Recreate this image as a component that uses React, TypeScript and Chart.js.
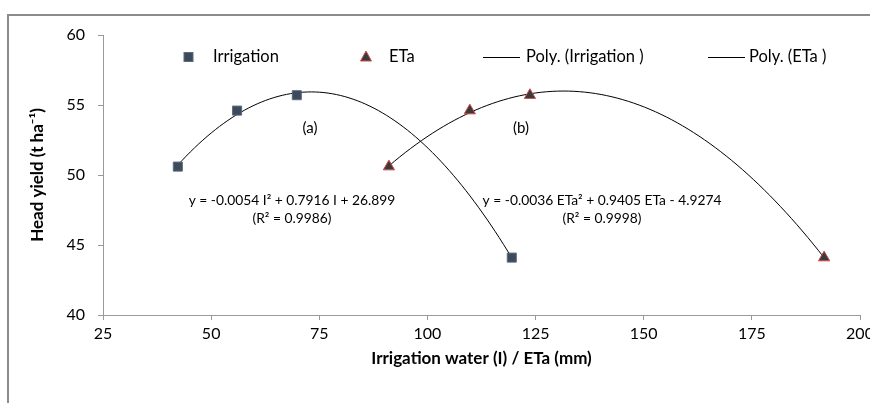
import React, { useEffect, useRef } from "react";
import { Chart, registerables } from "chart.js";

Chart.register(...registerables);

// ---- data ----
const irrigationX = [42.3, 56.0, 69.8, 119.5];
const irrigationY = [50.6, 54.6, 55.7, 44.1];
const etaX = [91.1, 109.8, 123.7, 191.7];
const etaY = [50.6, 54.6, 55.7, 44.1];

const xTicks = [25, 50, 75, 100, 125, 150, 175, 200];
const yTicks = [40, 45, 50, 55, 60];

const seriesNames = ["Irrigation", "ETa", "Poly. (Irrigation )", "Poly. (ETa )"];
const eqIrrigation = ["y = -0.0054 I\u00B2 + 0.7916 I + 26.899", "(R\u00B2 = 0.9986)"];
const eqEta = ["y = -0.0036 ETa\u00B2 + 0.9405 ETa - 4.9274", "(R\u00B2 = 0.9998)"];
const panelLabels = ["(a)", "(b)"];

const FONT = "Lato, 'Liberation Sans', sans-serif";

// least-squares quadratic fit (Excel "Poly." trendline, order 2)
function fitQuadratic(xs: number[], ys: number[]) {
  const S = [0, 0, 0, 0, 0];
  const T = [0, 0, 0];
  for (let i = 0; i < xs.length; i++) {
    let p = 1;
    for (let k = 0; k < 5; k++) { S[k] += p; p *= xs[i]; }
    T[0] += ys[i]; T[1] += ys[i] * xs[i]; T[2] += ys[i] * xs[i] * xs[i];
  }
  const M = [
    [S[0], S[1], S[2], T[0]],
    [S[1], S[2], S[3], T[1]],
    [S[2], S[3], S[4], T[2]],
  ];
  for (let c = 0; c < 3; c++) {
    for (let r = c + 1; r < 3; r++) {
      const f = M[r][c] / M[c][c];
      for (let k = c; k < 4; k++) M[r][k] -= f * M[c][k];
    }
  }
  const sol = [0, 0, 0];
  for (let r = 2; r >= 0; r--) {
    let s = M[r][3];
    for (let k = r + 1; k < 3; k++) s -= M[r][k] * sol[k];
    sol[r] = s / M[r][r];
  }
  return sol; // c0, c1, c2
}

function trendPoints(xs: number[], ys: number[]) {
  const [a, b, c] = fitQuadratic(xs, ys);
  const lo = Math.min(...xs);
  const hi = Math.max(...xs);
  const pts = [];
  const n = 80;
  for (let i = 0; i <= n; i++) {
    const x = lo + ((hi - lo) * i) / n;
    pts.push({ x, y: a + b * x + c * x * x });
  }
  return pts;
}

const SQ_FILL = "#3d4a5c";
const SQ_EDGE = "#5a6b80";
const TRI_FILL = "#3a3a3a";
const TRI_EDGE = "#d0504d";

const overlayPlugin = {
  id: "overlay",
  afterDraw(chart: any) {
    const ctx = chart.ctx;
    ctx.save();
    // legend
    const ly = 57;
    ctx.font = `16.5px ${FONT}`;
    ctx.textBaseline = "middle";
    ctx.textAlign = "left";
    // square
    ctx.fillStyle = SQ_FILL;
    ctx.strokeStyle = SQ_EDGE;
    ctx.lineWidth = 1;
    ctx.fillRect(184, ly - 4.5, 9, 9);
    ctx.strokeRect(184, ly - 4.5, 9, 9);
    ctx.fillStyle = "#000";
    ctx.fillText(seriesNames[0], 213, ly);
    // triangle
    ctx.beginPath();
    ctx.moveTo(366, ly - 6);
    ctx.lineTo(371.5, ly + 4);
    ctx.lineTo(360.5, ly + 4);
    ctx.closePath();
    ctx.fillStyle = TRI_FILL;
    ctx.fill();
    ctx.strokeStyle = TRI_EDGE;
    ctx.stroke();
    ctx.fillStyle = "#000";
    ctx.fillText(seriesNames[1], 389, ly);
    // lines
    ctx.strokeStyle = "#000";
    ctx.beginPath();
    ctx.moveTo(483, ly + 0.5);
    ctx.lineTo(520, ly + 0.5);
    ctx.stroke();
    ctx.fillText(seriesNames[2], 526, ly);
    ctx.beginPath();
    ctx.moveTo(708, ly + 0.5);
    ctx.lineTo(745, ly + 0.5);
    ctx.stroke();
    ctx.fillText(seriesNames[3], 749, ly);

    // panel labels
    ctx.font = `15px ${FONT}`;
    ctx.textAlign = "center";
    ctx.fillText(panelLabels[0], 310, 128);
    ctx.fillText(panelLabels[1], 521, 128);

    // equations
    ctx.font = `13.8px ${FONT}`;
    ctx.fillText(eqIrrigation[0], 292, 201);
    ctx.fillText(eqIrrigation[1], 292, 219);
    ctx.fillText(eqEta[0], 602, 201);
    ctx.fillText(eqEta[1], 602, 219);
    ctx.restore();
  },
};

export default function App() {
  const ref = useRef<HTMLCanvasElement>(null);
  useEffect(() => {
    if (!ref.current) return;
    const axisColor = "#9a9a9a";
    const chart = new Chart(ref.current, {
      type: "scatter",
      data: {
        datasets: [
          {
            label: seriesNames[2],
            type: "line",
            data: trendPoints(irrigationX, irrigationY),
            borderColor: "#000",
            borderWidth: 1,
            pointRadius: 0,
            fill: false,
            order: 3,
          } as any,
          {
            label: seriesNames[3],
            type: "line",
            data: trendPoints(etaX, etaY),
            borderColor: "#000",
            borderWidth: 1,
            pointRadius: 0,
            fill: false,
            order: 3,
          } as any,
          {
            label: seriesNames[0],
            data: irrigationX.map((x, i) => ({ x, y: irrigationY[i] })),
            pointStyle: "rect",
            pointRadius: 6.4,
            backgroundColor: SQ_FILL,
            borderColor: SQ_EDGE,
            borderWidth: 1,
            order: 1,
          },
          {
            label: seriesNames[1],
            data: etaX.map((x, i) => ({ x, y: etaY[i] })),
            pointStyle: "triangle",
            pointRadius: 6.5,
            backgroundColor: TRI_FILL,
            borderColor: TRI_EDGE,
            borderWidth: 1,
            order: 1,
          },
        ],
      },
      options: {
        responsive: false,
        animation: false,
        devicePixelRatio: 1,
        layout: { padding: { top: 35, right: 10, left: 0, bottom: 0 } },
        plugins: {
          legend: { display: false },
          tooltip: { enabled: false },
        },
        scales: {
          x: {
            type: "linear",
            min: xTicks[0],
            max: xTicks[xTicks.length - 1],
            afterBuildTicks: (s: any) => { s.ticks = xTicks.map((v) => ({ value: v })); },
            afterFit: (s: any) => { s.height = 88; s.paddingLeft = 0; s.paddingRight = 0; },
            grid: { display: true, drawOnChartArea: false, tickLength: 5, color: axisColor },
            border: { display: true, color: axisColor, width: 1 },
            ticks: { color: "#000", font: { family: FONT, size: 16 }, padding: 4, maxRotation: 0 },
            title: {
              display: true,
              text: "Irrigation water (I) / ETa (mm)",
              color: "#000",
              font: { family: FONT, size: 17, weight: "bold" },
              padding: { top: 0, bottom: 34 },
            },
          },
          y: {
            type: "linear",
            min: yTicks[0],
            max: yTicks[yTicks.length - 1],
            afterBuildTicks: (s: any) => { s.ticks = yTicks.map((v) => ({ value: v })); },
            afterFit: (s: any) => { s.width = 103; s.paddingTop = 0; s.paddingBottom = 0; },
            grid: { display: true, drawOnChartArea: false, tickLength: 5, color: axisColor },
            border: { display: true, color: axisColor, width: 1 },
            ticks: { color: "#000", font: { family: FONT, size: 16 }, padding: 13 },
            title: {
              display: true,
              text: "Head yield (t ha\u207B\u00B9)",
              color: "#000",
              font: { family: FONT, size: 17, weight: "bold" },
              padding: { top: 27, bottom: 0 },
            },
          },
        },
      },
      plugins: [overlayPlugin],
    } as any);
    return () => chart.destroy();
  }, []);

  return (
    <div style={{ position: "absolute", left: 0, top: 0, width: 870, height: 403, background: "#fff", overflow: "hidden" }}>
      <canvas ref={ref} width={870} height={403} style={{ position: "absolute", left: 0, top: 0 }} />
      <div
        style={{
          position: "absolute",
          left: 7,
          top: 14,
          width: 870,
          height: 400,
          borderTop: "2px solid #8c8c8c",
          borderLeft: "2px solid #8c8c8c",
          pointerEvents: "none",
        }}
      />
    </div>
  );
}
